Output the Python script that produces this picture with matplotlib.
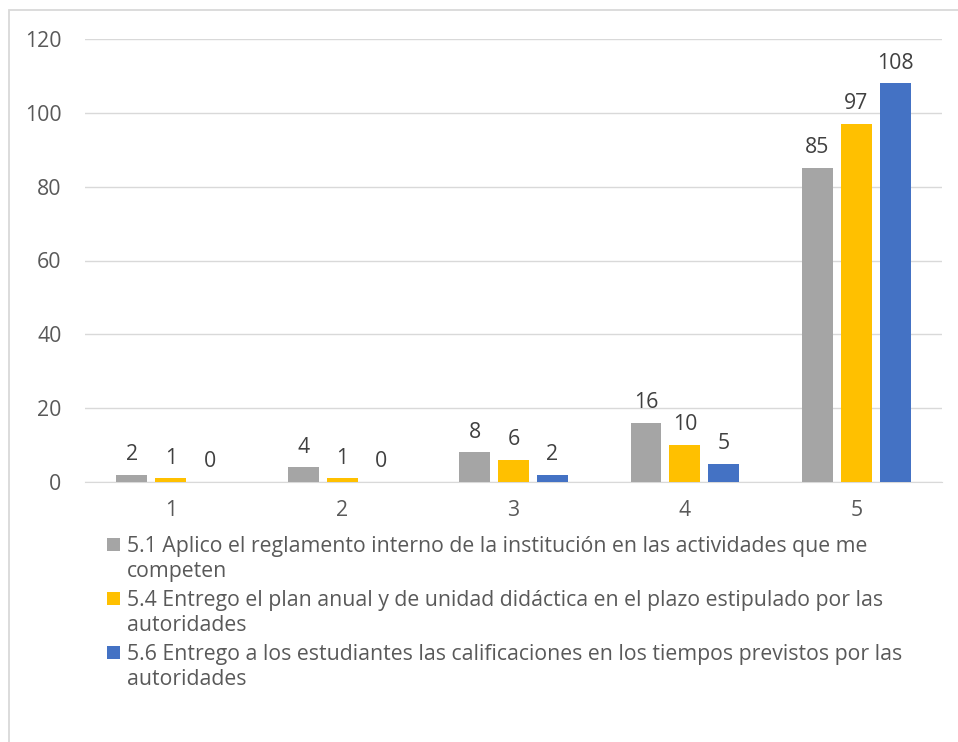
import numpy as np
import matplotlib.pyplot as plt
from matplotlib.patches import Rectangle

plt.rcParams['font.family'] = ['Open Sans', 'DejaVu Sans']

categories = ['1', '2', '3', '4', '5']
s51 = [2, 4, 8, 16, 85]
s54 = [1, 1, 6, 10, 97]
s56 = [0, 0, 2, 5, 108]
labels = ['5.1 Aplico el reglamento interno de la institución en las actividades que me\ncompeten',
          '5.4 Entrego el plan anual y de unidad didáctica en el plazo estipulado por las\nautoridades',
          '5.6 Entrego a los estudiantes las calificaciones en los tiempos previstos por las\nautoridades']
colors = ['#A5A5A5', '#FFC000', '#4472C4']

W, H = 958, 742
fig = plt.figure(figsize=(W/100, H/100), dpi=100)
ax = fig.add_axes([85/W, 1-482/H, (942-85)/W, (482-39)/H])

# outer chart frame (right/bottom edges fall outside the image)
fig.patches.append(Rectangle((8.5/W, -0.1), 1.2, 1.1-10.5/H, transform=fig.transFigure,
                             fill=False, edgecolor='#d9d9d9', linewidth=1.3))

x = np.arange(len(categories))
w = 0.18
step = 0.227
txt = '#595959'
fs = 15.3
for i, (vals, c) in enumerate(zip([s51, s54, s56], colors)):
    bars = ax.bar(x + (i-1)*step, vals, w, color=c, zorder=3)
    ax.bar_label(bars, padding=7, fontsize=fs, color='#404040')

ax.set_xlim(-0.5, 4.5)
ax.set_ylim(0, 120)
ax.set_yticks(range(0, 121, 20))
ax.set_xticks(x, categories)
ax.grid(axis='y', color='#d9d9d9', linewidth=1, zorder=0)
for s in ['top', 'right', 'left']:
    ax.spines[s].set_visible(False)
ax.spines['bottom'].set_color('#d9d9d9')
ax.tick_params(axis='both', length=0, labelsize=fs, labelcolor=txt)
ax.tick_params(axis='y', pad=17)
ax.tick_params(axis='x', pad=13)

# legend below the plot, Excel style (marker beside first line)
base = 552
for lab, c in zip(labels, colors):
    fig.patches.append(Rectangle((107/W, 1-(base-1)/H), 13/W, 13/H, transform=fig.transFigure,
                                 color=c, linewidth=0))
    for k, line in enumerate(lab.split('\n')):
        fig.text(127/W, 1-(base + 25*k)/H, line, fontsize=fs, color=txt, va='baseline')
    base += 54

fig.savefig('out.png', dpi=100)
